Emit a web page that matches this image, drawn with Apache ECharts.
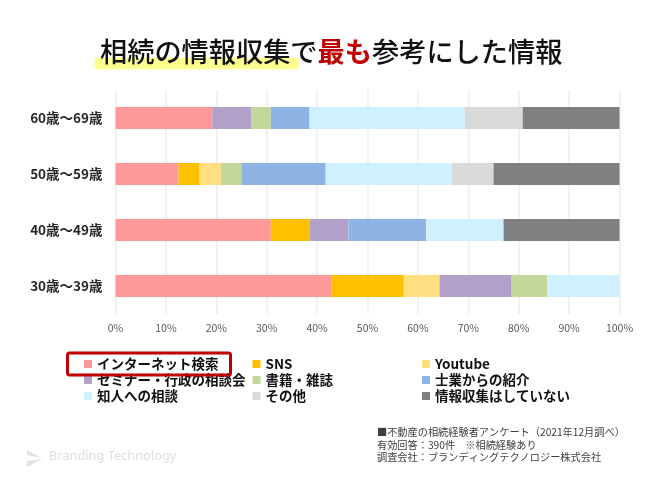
<!DOCTYPE html>
<html>
<head>
<meta charset="utf-8">
<script src="https://cdn.jsdelivr.net/npm/echarts@6/dist/echarts.min.js"></script>
<style>html,body{margin:0;padding:0;background:#fff}#main{width:658px;height:488px}</style>
</head>
<body>
<div id="main"></div>
<script>
var font = '"Noto Sans CJK JP", sans-serif';
var categories = ['30歳～39歳', '40歳～49歳', '50歳～59歳', '60歳～69歳'];
var seriesNames = ['インターネット検索', 'SNS', 'Youtube', 'セミナー・行政の相談会', '書籍・雑誌', '士業からの紹介', '知人への相談', 'その他', '情報収集はしていない'];
var colors = ['#ff9999', '#ffc000', '#ffdf80', '#b1a0c7', '#c4d79b', '#8db4e2', '#cff1ff', '#d9d9d9', '#808080'];

// 値は 30代, 40代, 50代, 60代 の順
var internet = [42.9, 30.8, 12.5, 19.2];
var sns = [14.3, 7.7, 4.2, 0];
var youtube = [7.1, 0, 4.2, 0];
var seminar = [14.3, 7.7, 0, 7.7];
var books = [7.1, 0, 4.1, 3.9];
var professional = [0, 15.4, 16.7, 7.7];
var acquaintance = [14.3, 15.4, 25, 30.8];
var other = [0, 0, 8.3, 11.5];
var none = [0, 23, 25, 19.2];
var values = [internet, sns, youtube, seminar, books, professional, acquaintance, other, none];

var legendColumns = [
  { left: 84, items: [0, 3, 6] },
  { left: 252.5, items: [1, 4, 7] },
  { left: 422, items: [2, 5, 8] }
];

var chart = echarts.init(document.getElementById('main'));

var option = {
  animation: false,
  backgroundColor: '#fff',
  textStyle: { fontFamily: font },
  grid: { left: 115.5, right: 38.5, top: 90, height: 224 },
  xAxis: {
    type: 'value',
    min: 0,
    max: 100,
    interval: 10,
    axisLine: { show: false },
    axisTick: { show: false },
    splitLine: { lineStyle: { color: '#eeeeee', width: 1.5 } },
    axisLabel: { formatter: '{value}%', color: '#595959', fontSize: 10.5, margin: 9, fontFamily: font }
  },
  yAxis: {
    type: 'category',
    data: categories,
    axisLine: { show: false },
    axisTick: { show: false },
    axisLabel: { color: '#262626', fontSize: 13.5, fontWeight: 700, margin: 13, fontFamily: font }
  },
  legend: legendColumns.map(function (col) {
    return {
      orient: 'vertical',
      left: col.left,
      top: 356,
      itemWidth: 8,
      itemHeight: 8,
      itemGap: 0,
      selectedMode: false,
      icon: 'rect',
      padding: 0,
      textStyle: { color: '#111', fontSize: 13.5, fontWeight: 700, lineHeight: 16, fontFamily: font },
      data: col.items.map(function (i) { return seriesNames[i]; })
    };
  }),
  series: seriesNames.map(function (name, i) {
    return {
      type: 'bar',
      name: name,
      stack: 'total',
      barWidth: 22,
      itemStyle: { color: colors[i] },
      data: values[i]
    };
  }),
  graphic: [
    { type: 'rect', z: 0, shape: { x: 94.5, y: 57.7, width: 204, height: 11.6 }, style: { fill: '#ffff8f' } },
    { type: 'text', z: 1, x: 100, y: 38, style: { text: '相続の情報収集で', fill: '#111', font: '500 27.2px ' + font } },
    { type: 'text', z: 1, x: 317.6, y: 38, style: { text: '最も', fill: '#c00000', font: '700 27.2px ' + font } },
    { type: 'text', z: 1, x: 372, y: 38, style: { text: '参考にした情報', fill: '#111', font: '500 27.2px ' + font } },
    { type: 'rect', z: 5, shape: { x: 67.5, y: 353, width: 163, height: 22, r: 2 }, style: { fill: 'none', stroke: '#c00000', lineWidth: 3 } },
    { type: 'text', x: 377, y: 427.5, style: { text: '■不動産の相続経験者アンケート（2021年12月調べ）', fill: '#404040', font: '10.2px ' + font } },
    { type: 'text', x: 377, y: 440, style: { text: '有効回答：390件　※相続経験あり', fill: '#404040', font: '10.2px ' + font } },
    { type: 'text', x: 377, y: 452.5, style: { text: '調査会社：ブランディングテクノロジー株式会社', fill: '#404040', font: '10.2px ' + font } },
    { type: 'polygon', shape: { points: [[27, 450], [42, 458], [27, 455]] }, style: { fill: '#e2e2e2' } },
    { type: 'polygon', shape: { points: [[27, 461], [42, 459], [27, 467]] }, style: { fill: '#e2e2e2' } },
    { type: 'text', x: 49, y: 450, style: { text: 'Branding Technology', fill: '#dedede', font: '12.8px "Noto Sans", sans-serif' } }
  ]
};

chart.setOption(option);
</script>
</body>
</html>
